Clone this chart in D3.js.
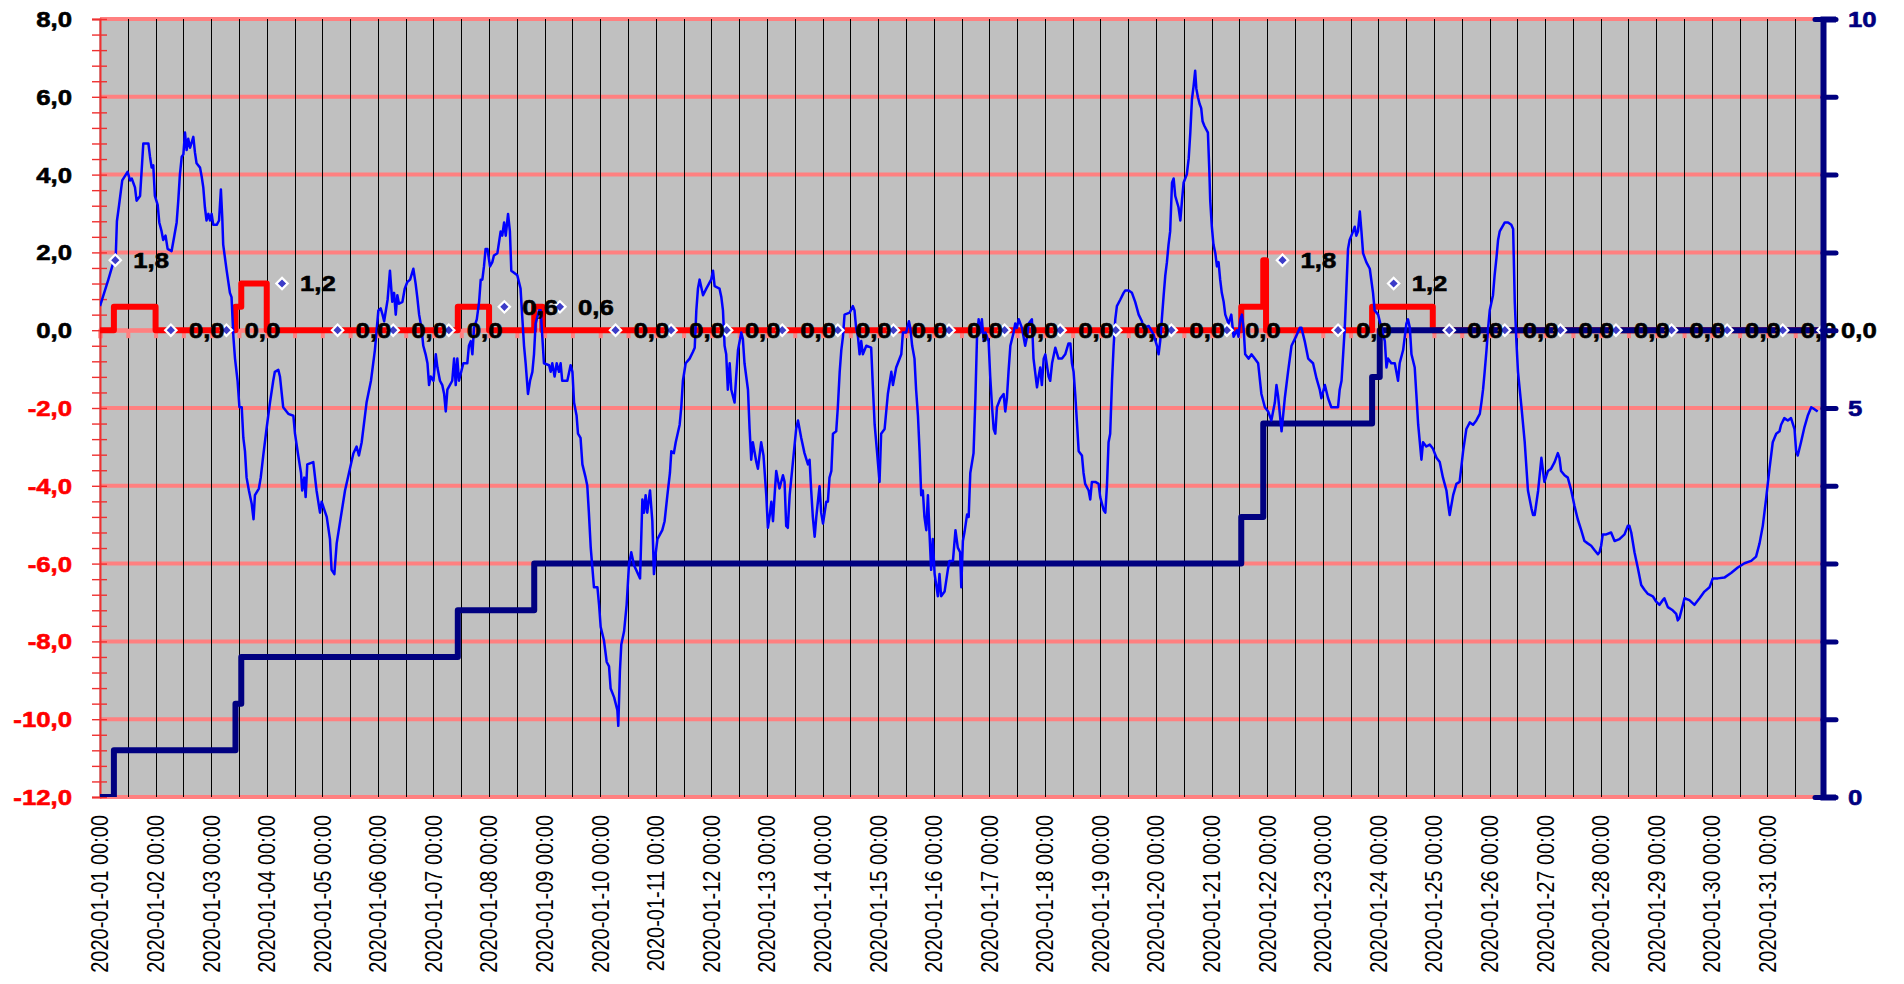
<!DOCTYPE html>
<html>
<head>
<meta charset="utf-8">
<script src="https://cdn.jsdelivr.net/npm/d3@7"></script>
<style>
  body { margin: 0; background: #fff; }
  text { font-family: "Liberation Sans", Arial, sans-serif; }
</style>
</head>
<body>
<div id="container"></div>
<script>
// blue series: [hours since 2020-01-01 00:00, value]
const bluePoints = [
  [0,0.62],[3.6,1.3],[5.8,1.75],[6.8,1.9],[7.3,2.8],[8.2,3.2],[9.6,3.85],[11.9,4.07],[13.0,3.85],[13.7,3.9],
  [15.1,3.67],[15.8,3.33],[17.3,3.45],[18.0,4.12],[18.7,4.8],[20.9,4.8],[21.6,4.46],[22.3,4.18],[23.0,4.24],[23.7,3.45],
  [24.9,3.22],[25.6,2.77],[26.6,2.54],[27.3,2.32],[28.3,2.43],[29.2,2.09],[30.9,2.03],[32.1,2.43],[33.1,2.77],[33.8,3.33],
  [34.5,4.0],[35.3,4.46],[36.0,4.52],[36.7,5.08],[37.4,4.63],[38.1,4.92],[38.9,4.69],[40.3,4.97],[41.0,4.57],[41.7,4.29],
  [43.2,4.18],[43.9,3.95],[44.6,3.67],[45.3,3.16],[46.0,2.82],[46.8,2.99],[47.5,2.82],[48.2,2.99],[48.9,2.71],[50.4,2.71],
  [51.4,2.82],[52.2,3.62],[52.8,2.88],[53.2,2.2],[54.7,1.53],[56.1,0.96],[56.8,0.85],[57.6,-0.17],[58.3,-0.73],[59.4,-1.3],
  [60.2,-1.98],[61.2,-1.98],[61.9,-2.77],[62.6,-3.11],[63.3,-3.79],[64.3,-4.12],[65.5,-4.46],[66.3,-4.86],[66.9,-4.24],[68.6,-4.07],
  [69.4,-3.79],[70.5,-3.22],[71.9,-2.54],[73.4,-1.86],[74.8,-1.3],[75.5,-1.07],[77.0,-1.02],[77.7,-1.19],[79.1,-1.98],[81.3,-2.15],
  [83.5,-2.2],[84.2,-2.66],[85.6,-3.22],[86.8,-3.67],[87.3,-4.12],[88.2,-3.79],[88.8,-4.29],[89.5,-3.45],[92.1,-3.39],[93.5,-4.12],
  [95.0,-4.69],[95.7,-4.41],[97.9,-4.8],[99.3,-5.37],[100.0,-6.16],[101.2,-6.27],[102.2,-5.48],[104.0,-4.8],[105.8,-4.12],[107.5,-3.67],
  [109.4,-3.17],[110.8,-2.99],[111.8,-3.22],[113.0,-2.88],[115.1,-1.86],[117.0,-1.3],[118.7,-0.51],[120.2,0.51],[121.2,0.56],[122.0,0.4],
  [122.7,0.23],[124.2,0.79],
  [125.2,1.53],[126.2,0.73],[127.0,0.96],[127.7,0.40],[128.4,0.90],[129.1,0.68],[130.6,0.73],[131.6,1.07],[132.7,1.24],[133.9,1.30],
  [135.3,1.58],[136.3,1.19],[137.0,0.85],[137.8,0.40],[138.8,0.06],[139.6,-0.40],[140.6,-0.62],[141.4,-0.85],[142.1,-1.41],[142.8,-1.19],
  [144.0,-1.30],[145.0,-0.62],[145.7,-0.96],[146.8,-1.30],[147.8,-1.41],[148.6,-1.64],[149.3,-2.09],[150.0,-1.53],[152.1,-1.30],[152.9,-0.73],
  [153.6,-1.41],[154.3,-0.73],[155.0,-1.30],[156.9,-0.85],[158.6,-0.85],[159.3,-0.40],[160.1,-0.28],[160.8,-0.62],[161.5,0.06],[162.7,0.28],
  [163.7,0.73],[164.4,1.30],[165.1,1.30],[165.8,1.64],[166.5,2.09],[167.3,2.09],[168.4,1.64],[169.4,1.75],[170.1,1.92],[171.6,1.98],
  [173.0,2.54],[173.7,2.43],[174.5,2.77],[175.2,2.43],[176.2,2.99],[177.0,2.54],[177.6,1.53],[180.2,1.41],[181.6,1.07],[182.4,0.28],
  [183.1,-0.40],[183.8,-0.85],[184.8,-1.64],[185.7,-1.30],[186.7,-1.07],[187.4,-0.62],[188.1,0.17],[189.6,0.51],[190.3,0.51],[191.0,-0.17],
  [191.7,-0.85],[193.9,-0.90],[194.6,-1.07],[195.3,-0.85],[196.3,-1.19],[197.2,-0.85],[198.2,-1.07],[198.9,-0.85],[199.6,-1.30],[201.8,-1.30],
  [203.2,-0.90],[204.0,-1.07],[204.7,-1.86],[205.8,-2.20],[206.4,-2.66],[207.5,-2.77],[208.3,-3.45],[209.7,-3.79],[210.4,-3.99],[211.1,-4.69],
  [211.9,-5.59],[213.3,-6.61],[214.8,-6.61],[215.5,-7.06],[216.2,-7.63],[217.6,-7.97],[218.8,-8.53],[219.8,-8.64],[220.5,-9.21],[222.0,-9.44],
  [223.4,-9.77],[223.8,-10.17],[224.5,-8.76],[225.1,-8.08],[226.3,-7.74],[227.4,-7.06],[228.4,-6.04],[229.4,-5.71],[230.6,-6.04],[233.2,-6.38],
  [234.2,-4.35],[234.9,-4.69],[235.6,-4.24],[236.3,-4.69],[237.5,-4.12],[238.5,-4.91],[239.2,-6.27],[240.0,-5.71],[240.7,-5.37],[242.8,-5.14],
  [243.8,-4.91],[245.0,-4.24],[246.1,-3.67],[246.7,-3.11],[247.8,-3.16],
  [248.6,-2.88],[250.3,-2.43],[251.0,-1.98],[251.7,-1.30],[252.9,-0.85],[254.6,-0.73],[256.0,-0.56],[256.8,-0.45],[257.5,0.51],[258.2,1.07],
  [258.9,1.30],[260.4,0.90],[261.8,1.07],[263.9,1.30],[264.7,1.53],[265.4,1.13],[267.5,1.07],[268.3,0.85],[269.0,0.51],[269.7,-0.40],
  [270.4,-0.62],[271.1,-1.53],[271.9,-0.85],[272.6,-1.53],[274.0,-1.86],[274.7,-1.19],[275.5,-0.51],[276.9,-0.06],[277.6,-0.23],[278.3,-0.85],
  [279.8,-1.53],[280.5,-2.54],[281.2,-3.33],[281.9,-2.88],[283.4,-3.39],[284.1,-3.56],[284.8,-3.22],[285.5,-2.88],[286.5,-3.22],[287.7,-4.24],
  [288.4,-5.08],[289.1,-4.80],[289.9,-4.41],[290.6,-4.91],[291.3,-4.24],[292.0,-3.62],[293.4,-4.07],[294.9,-3.73],[295.6,-3.90],[296.3,-5.03],
  [297.0,-5.08],[297.8,-4.24],[299.2,-3.39],[300.6,-2.54],[301.4,-2.32],[302.8,-2.77],[304.2,-3.16],[305.7,-3.45],[306.4,-3.33],[307.1,-4.12],
  [307.8,-4.80],[308.6,-5.31],[309.3,-4.80],[310.7,-4.01],[311.4,-4.69],[312.2,-4.97],[313.6,-4.41],[314.3,-4.41],[315.0,-3.79],[315.8,-3.62],
  [316.5,-2.66],[317.9,-2.60],[318.6,-1.98],[319.4,-1.07],[320.1,-0.51],[320.8,-0.17],[321.5,0.40],[323.7,0.45],[325.1,0.62],[325.8,0.51],
  [326.5,0.06],[327.3,-0.17],[328.0,-0.62],[328.7,-0.28],[329.4,-0.62],[330.9,-0.40],[333.0,-0.45],[333.7,-1.41],[334.5,-2.43],[335.5,-3.11],
  [336.6,-3.90],[337.3,-2.66],[338.8,-2.54],[340.2,-1.64],[341.7,-1.07],[342.4,-1.41],[343.8,-0.96],[346.0,-0.62],[346.7,-0.06],[348.1,-0.06],
  [349.3,0.23],[349.9,0.06],[350.7,-0.40],[351.7,-0.73],[352.4,-1.53],[353.2,-2.20],[353.9,-3.11],[354.6,-4.24],[355.3,-4.12],[356.0,-4.80],
  [356.8,-5.14],[357.5,-4.24],[358.2,-5.25],[358.9,-6.16],[359.6,-5.37],[360.4,-6.27],[361.8,-6.84],[362.5,-6.27],[363.2,-6.84],[364.7,-6.72],
  [366.1,-6.16],[366.8,-5.93],[368.3,-5.93],[369.4,-5.14],[370.4,-5.59],[371.4,-5.71],[371.9,-6.61],[372.6,-5.42],[373.3,-5.19],
  [374.4,-4.74],[375.1,-4.80],[375.8,-3.67],[377.2,-3.16],[378.0,-1.75],[378.7,-0.17],[379.4,0.28],[380.1,-0.06],[380.8,0.28],[381.6,-0.28],
  [382.3,-0.06],[383.7,-0.28],[384.4,-1.19],[385.2,-1.98],[385.9,-2.54],[386.6,-2.66],[387.3,-1.98],[388.8,-1.75],[390.2,-1.64],[390.9,-2.09],
  [391.6,-1.75],[392.3,-1.07],[393.1,-0.40],[394.5,-0.06],[395.2,0.17],[395.9,0.06],[396.7,0.28],[398.1,0.06],[398.8,-0.17],[399.5,-0.40],
  [400.3,-0.17],[401.0,0.17],[402.4,0.28],[403.1,-0.73],[404.6,-1.47],[405.3,-1.19],[406.0,-0.96],[406.7,-1.41],[407.5,-0.73],[408.2,-0.62],
  [409.6,-1.19],[410.3,-1.30],[411.1,-0.85],[412.5,-0.45],[413.9,-0.73],[415.4,-0.73],[416.8,-0.62],[418.2,-0.34],[419.0,-0.34],[419.7,-0.85],
  [420.4,-1.07],[421.1,-1.64],[421.8,-2.32],[422.6,-3.11],[424.0,-3.22],[424.7,-3.67],[425.4,-3.95],[426.9,-4.12],[427.6,-4.35],[428.3,-3.90],
  [429.8,-3.90],[431.2,-3.95],[431.9,-4.29],[433.4,-4.63],[434.1,-4.69],[434.8,-4.01],[435.5,-2.88],[436.2,-2.66],[437.0,-1.30],[437.7,-0.40],
  [438.4,0.28],[439.1,0.62],[440.6,0.79],[442.0,0.96],[442.7,1.02],[444.2,1.02],[445.6,0.96],[447.0,0.73],[448.5,0.40],[449.9,0.23],
  [450.6,0.06],[452.8,0.11],[454.9,-0.11],[456.4,-0.40],[457.1,-0.62],[457.8,-0.28],[458.5,0.28],[459.3,0.90],[460.0,1.41],[460.7,1.75],
  [461.4,2.20],[462.1,2.54],[462.9,3.79],[463.6,3.90],[464.3,3.45],[465.7,3.16],[466.5,2.82],[467.2,3.33],[467.9,3.79],[469.3,4.01],
  [470.1,4.41],[470.8,5.08],[471.5,5.93],[472.2,6.27],[472.9,6.67],[473.4,6.21],[474.1,5.99],[474.8,5.82],[475.5,5.71],[476.1,5.37],
  [476.9,5.25],[478.4,5.08],[479.0,4.12],[479.4,3.33],[480.1,2.66],[480.8,2.20],[481.6,1.98],[482.3,1.64],[483.0,1.75],[483.7,1.30],
  [484.4,0.96],[485.2,0.73],[485.9,0.40],[487.3,0.17],[488.5,0.40],[489.5,-0.17],[490.9,0.0],[491.6,-0.17],[492.4,0.28],[493.1,0.40],
  [493.8,0.06],[494.5,-0.62],[496.0,-0.73],
  [497.2,-0.62],[498.6,-0.73],[500.1,-0.85],[501.5,-1.64],[503.0,-1.98],[504.4,-2.09],[505.8,-2.32],[507.3,-1.86],[508.0,-1.41],[508.7,-1.69],
  [510.2,-2.60],[511.6,-1.75],[513.0,-1.07],[514.5,-0.40],[515.9,-0.23],[518.1,0.06],[518.8,0.06],[520.2,-0.28],[521.7,-0.73],[523.8,-0.85],
  [525.3,-1.24],[526.7,-1.53],[527.4,-1.75],[528.9,-1.41],[530.3,-1.75],[531.7,-1.98],[533.2,-1.98],[534.6,-1.98],[535.3,-1.53],[536.1,-1.30],
  [536.8,-0.62],[537.5,0.06],[538.2,1.07],[538.9,2.09],[539.6,2.32],[541.1,2.54],[541.8,2.66],[542.5,2.43],[543.2,2.54],[544.0,3.05],
  [544.7,2.54],[545.4,1.98],[546.8,1.75],[548.3,1.58],[549.7,0.96],[550.4,0.51],[551.9,0.40],[553.3,0.06],[554.8,-0.28],[555.5,-0.96],
  [556.2,-0.73],[557.6,-0.85],[559.1,-0.85],[560.5,-1.30],[561.2,-0.85],[562.7,-0.51],[564.1,0.17],[564.8,0.28],[565.6,0.06],[566.3,-0.62],
  [567.7,-0.96],[568.4,-1.64],[569.2,-2.43],[570.6,-3.33],[571.3,-2.88],[572.7,-2.99],[574.2,-2.94],[575.6,-3.05],[577.1,-3.28],[578.5,-3.39],
  [579.9,-3.79],[581.4,-4.12],[582.1,-4.46],[582.8,-4.75],[584.3,-4.24],[585.7,-3.95],[587.1,-3.90],[588.6,-3.11],[590.0,-2.54],[591.5,-2.37],
  [592.9,-2.43],[594.3,-2.32],[595.8,-2.15],[596.5,-1.86],[597.2,-1.53],[597.9,-1.07],[598.7,-0.51],[599.4,0.06],[600.1,0.51],[601.5,0.90],
  [602.2,1.41],[603.0,1.86],[603.7,2.32],[604.4,2.54],[606.6,2.77],[608.0,2.77],[609.4,2.71],[610.2,2.60],[610.9,0.73],[611.6,-0.28],
  [612.3,-1.07],[613.8,-1.98],[615.2,-2.88],[616.6,-4.12],[618.1,-4.58],[618.8,-4.75],[619.5,-4.75],[621.0,-4.12],[622.4,-3.28],
  [623.7,-3.90],[625.2,-3.62],[626.6,-3.56],[628.1,-3.39],[629.5,-3.16],[630.2,-3.28],[630.9,-3.62],[632.4,-3.73],[633.8,-3.79],[635.3,-4.12],
  [636.7,-4.52],[638.1,-4.86],[639.6,-5.14],[641.0,-5.42],[642.4,-5.48],[643.9,-5.54],[645.3,-5.65],[646.8,-5.76],[647.5,-5.71],[648.2,-5.54],
  [648.9,-5.25],[650.4,-5.25],[652.5,-5.20],[654.0,-5.42],[656.1,-5.37],[658.3,-5.25],[659.7,-5.03],[660.4,-5.03],[661.2,-5.20],[662.6,-5.71],
  [664.0,-6.10],[665.5,-6.55],[666.9,-6.67],[668.4,-6.78],[670.5,-6.84],[672.0,-6.98],[673.4,-7.06],[674.8,-6.94],[675.5,-6.89],[677.0,-7.12],
  [679.1,-7.20],[680.6,-7.29],[681.3,-7.46],[682.0,-7.40],[683.5,-7.06],[684.2,-6.89],[686.3,-6.94],[688.5,-7.06],[690.7,-6.89],[692.8,-6.72],
  [695.0,-6.61],[696.4,-6.38],[698.6,-6.38],[701.4,-6.36],[704.3,-6.24],[707.2,-6.10],[710.1,-5.99],[713.0,-5.93],[715.1,-5.82],[716.6,-5.48],
  [718.0,-5.03],[719.4,-4.35],[720.9,-3.56],[722.3,-2.88],[723.8,-2.66],[725.2,-2.60],[725.9,-2.43],[727.3,-2.26],[728.8,-2.32],[730.2,-2.26],
  [731.7,-2.54],[732.4,-3.11],[733.1,-3.22],[734.5,-2.88],[736.0,-2.49],[737.4,-2.20],[738.9,-1.98],[740.3,-2.03],[741.7,-2.09]
]

// red step series (left axis)
const redHours = [0, 6, 24, 58.5, 61, 72, 154.5, 168, 187.5, 191, 492.8, 502.3, 503.5, 549.3, 575.5, 744]
const redValues = [0, 0.6, 0, 0.6, 1.2, 0, 0.6, 0, 0.6, 0, 0.6, 1.8, 0, 0.6, 0, 0]

// navy cumulative step series (right axis)
const navyHours = [0, 6, 58.5, 61, 154.5, 187.5, 492.8, 502.3, 549.3, 552.6, 744]
const navyValues = [0, 0.6, 1.2, 1.8, 2.4, 3.0, 3.6, 4.8, 5.4, 6.0, 6.0]

// daily marker values (Jan 1 .. Jan 31, then Feb 1)
const markerValues = [1.8, 0, 0, 1.2, 0, 0, 0, 0.6, 0.6, 0, 0, 0, 0, 0, 0, 0,
  0, 0, 0, 0, 0, 1.8, 0, 1.2, 0, 0, 0, 0, 0, 0, 0, 0]

const leftTicks = [-12, -10, -8, -6, -4, -2, 0, 2, 4, 6, 8]
const rightLabels = [0, 5, 10]

//sizes
const W = 1904, H = 984
const pLeft = 100, pRight = 1823, pTop = 19, pBottom = 797
const SX = 1.17 // horizontal stretch of the lettering

const t0 = Date.UTC(2020, 0, 1)
const toDate = h => new Date(t0 + h * 3600e3)

const x = d3.scaleUtc()
  .domain([toDate(0), toDate(744)])
  .range([pLeft, pRight])
const yL = d3.scaleLinear().domain([-12, 8]).range([pBottom, pTop])
const yR = d3.scaleLinear().domain([0, 10]).range([pBottom, pTop])

const locale = d3.formatLocale({ decimal: ',', thousands: '.', grouping: [3], currency: ['', ''], minus: '-' })
const fmt1 = locale.format('.1f')

const svg = d3.select('#container')
  .append('svg')
  .attr('width', W)
  .attr('height', H)

svg.append('defs').append('clipPath').attr('id', 'plotclip')
  .append('rect')
  .attr('x', pLeft).attr('y', pTop)
  .attr('width', pRight - pLeft).attr('height', pBottom - pTop)

// plot background
svg.append('rect')
  .attr('x', pLeft).attr('y', pTop)
  .attr('width', pRight - pLeft).attr('height', pBottom - pTop)
  .attr('fill', '#c0c0c0')
  .attr('stroke', '#808080')
  .attr('stroke-width', 1)

// horizontal grid
svg.append('g')
  .selectAll('line')
  .data(leftTicks)
  .join('line')
  .attr('x1', pLeft).attr('x2', pRight)
  .attr('y1', d => yL(d)).attr('y2', d => yL(d))
  .attr('stroke', '#ff8080')
  .attr('stroke-width', 4)

// vertical grid every 12 hours
svg.append('g')
  .selectAll('line')
  .data(d3.utcHour.every(12).range(toDate(12), toDate(744)))
  .join('line')
  .attr('x1', d => Math.round(x(d)) + 0.5).attr('x2', d => Math.round(x(d)) + 0.5)
  .attr('y1', pTop).attr('y2', pBottom)
  .attr('stroke', '#000')
  .attr('stroke-width', 1)

// x axis crossing at zero
const xAxis0 = svg.append('g')
  .attr('transform', `translate(0,${yL(0)})`)
  .call(d3.axisBottom(x).tickValues(d3.utcHour.every(12).range(toDate(0), toDate(744))).tickSize(8).tickFormat(''))
xAxis0.select('.domain').attr('stroke', '#ff8080').attr('stroke-width', 4)
xAxis0.selectAll('.tick line').attr('stroke', '#ff8080').attr('stroke-width', 4)

// left axis
const yAxisL = svg.append('g')
  .attr('transform', `translate(${pLeft},0)`)
  .call(d3.axisLeft(yL).tickValues(d3.range(51).map(i => -12 + i * 0.4)).tickSize(8).tickFormat(''))
yAxisL.select('.domain').attr('stroke', '#f03030').attr('stroke-width', 2)
yAxisL.selectAll('.tick line').attr('x2', -8).attr('x1', 7).attr('stroke', '#f03030').attr('stroke-width', 1.4)

svg.append('g')
  .selectAll('text')
  .data(leftTicks)
  .join('text')
  .attr('transform', d => `translate(${pLeft - 28},${yL(d)}) scale(${SX},1)`)
  .attr('dy', '0.36em')
  .attr('text-anchor', 'end')
  .attr('font-weight', 'bold')
  .attr('font-size', 22)
  .attr('fill', d => d < 0 ? '#ff0000' : '#000')
  .attr('stroke', d => d < 0 ? '#ff0000' : '#000')
  .attr('stroke-width', 0.6)
  .text(d => fmt1(d))

// lines
const plot = svg.append('g').attr('clip-path', 'url(#plotclip)')

const redLine = d3.line()
  .x(i => x(toDate(redHours[i])))
  .y(i => yL(redValues[i]))
  .curve(d3.curveStepAfter)

plot.append('path')
  .attr('d', redLine(d3.range(redHours.length)))
  .attr('fill', 'none')
  .attr('stroke', '#ff0000')
  .attr('stroke-width', 6)
  .attr('stroke-linejoin', 'round')

const navyLine = d3.line()
  .x(i => x(toDate(navyHours[i])))
  .y(i => yR(navyValues[i]))
  .curve(d3.curveStepAfter)

plot.append('path')
  .attr('d', navyLine(d3.range(navyHours.length)))
  .attr('fill', 'none')
  .attr('stroke', '#000080')
  .attr('stroke-width', 6)
  .attr('stroke-linejoin', 'round')

const blueLine = d3.line()
  .x(d => x(toDate(d[0])))
  .y(d => yL(d[1]))

plot.append('path')
  .attr('d', blueLine(bluePoints))
  .attr('fill', 'none')
  .attr('stroke', '#0000ff')
  .attr('stroke-width', 2.5)
  .attr('stroke-linejoin', 'round')

// daily markers
const markers = markerValues.map((v, i) => ({
  t: i < 31 ? toDate(i * 24 + 6.6) : toDate(744),
  v
}))

plot.append('g')
  .selectAll('path')
  .data(markers)
  .join('path')
  .attr('d', d3.symbol(d3.symbolSquare).size(64))
  .attr('transform', d => `translate(${x(d.t)},${yL(d.v)}) rotate(45)`)
  .attr('fill', '#3c3cc8')
  .attr('stroke', '#fff')
  .attr('stroke-width', 2.2)

svg.append('g')
  .selectAll('text')
  .data(markers)
  .join('text')
  .attr('transform', d => `translate(${x(d.t) + 18},${yL(d.v)}) scale(${SX},1)`)
  .attr('dy', '0.36em')
  .attr('font-weight', 'bold')
  .attr('font-size', 22)
  .attr('fill', '#000')
  .attr('stroke', '#000')
  .attr('stroke-width', 0.6)
  .text(d => fmt1(d.v))

// right axis
const yAxisR = svg.append('g')
  .attr('transform', `translate(${pRight},0)`)
  .call(d3.axisRight(yR).tickValues(d3.range(11)).tickSize(13).tickFormat(''))
yAxisR.select('.domain').attr('stroke', '#000080').attr('stroke-width', 6)
yAxisR.selectAll('.tick line')
  .attr('x1', d => (d === 0 || d === 10) ? -8 : 0)
  .attr('stroke', '#000080')
  .attr('stroke-width', 5)
  .attr('stroke-linecap', 'round')

svg.append('g')
  .selectAll('text')
  .data(rightLabels)
  .join('text')
  .attr('transform', d => `translate(${pRight + 25},${yR(d)}) scale(${SX},1)`)
  .attr('dy', '0.36em')
  .attr('font-weight', 'bold')
  .attr('font-size', 22)
  .attr('fill', '#000080')
  .attr('stroke', '#000080')
  .attr('stroke-width', 0.6)
  .text(d => d)

// date labels
svg.append('g')
  .selectAll('text')
  .data(d3.utcDay.range(toDate(0), toDate(744)))
  .join('text')
  .attr('transform', d => `translate(${x(d)},${pBottom + 18}) rotate(-90) scale(1,${SX})`)
  .attr('dy', '0.36em')
  .attr('text-anchor', 'end')
  .attr('font-size', 20)
  .attr('fill', '#000')
  .text(d => d3.utcFormat('%Y-%m-%d %H:%M')(d))
</script>
</body>
</html>
